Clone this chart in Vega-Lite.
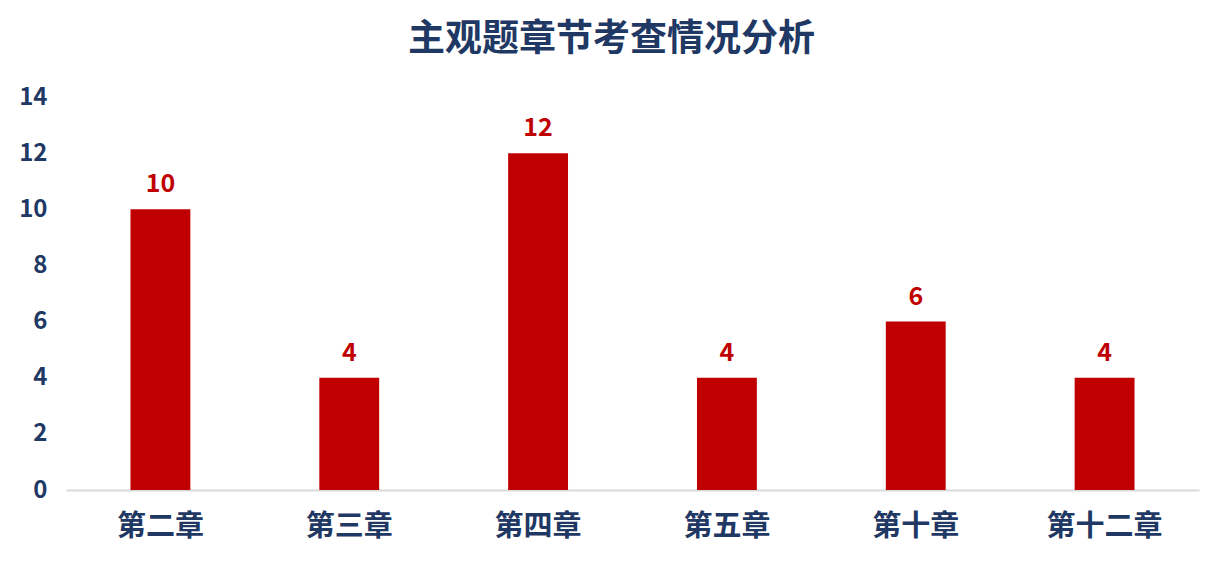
{
  "$schema": "https://vega.github.io/schema/vega-lite/v6.json",
  "width": 1133,
  "height": 393,
  "autosize": {"type": "none"},
  "padding": {"left": 66, "top": 97, "right": 23, "bottom": 76},
  "background": "white",
  "title": {
    "text": "主观题章节考查情况分析",
    "font": "Noto Sans CJK SC",
    "fontSize": 37,
    "fontWeight": "bold",
    "color": "#1F3864",
    "anchor": "middle",
    "dx": -21,
    "offset": 26
  },
  "data": {
    "values": [
      {"chapter": "第二章", "count": 10},
      {"chapter": "第三章", "count": 4},
      {"chapter": "第四章", "count": 12},
      {"chapter": "第五章", "count": 4},
      {"chapter": "第十章", "count": 6},
      {"chapter": "第十二章", "count": 4}
    ]
  },
  "encoding": {
    "x": {
      "field": "chapter",
      "type": "nominal",
      "sort": null,
      "scale": {"paddingInner": 0.683, "paddingOuter": 0.3415},
      "axis": {
        "title": null,
        "labelAngle": 0,
        "labelFont": "Noto Sans CJK SC",
        "labelFontSize": 29,
        "labelFontWeight": "bold",
        "labelColor": "#1F3864",
        "labelPadding": 22,
        "ticks": false,
        "domainColor": "#D9D9D9",
        "domainWidth": 2,
        "grid": false
      }
    },
    "y": {
      "field": "count",
      "type": "quantitative",
      "scale": {"domain": [0, 14]},
      "axis": {
        "title": null,
        "values": [0, 2, 4, 6, 8, 10, 12, 14],
        "labelFont": "Noto Sans CJK SC",
        "labelFontSize": 24,
        "labelFontWeight": "bold",
        "labelColor": "#1F3864",
        "labelPadding": 19,
        "ticks": false,
        "domain": false,
        "grid": false
      }
    }
  },
  "layer": [
    {"mark": {"type": "bar", "color": "#C00000"}},
    {
      "mark": {
        "type": "text",
        "color": "#C00000",
        "font": "Noto Sans CJK SC",
        "fontSize": 25,
        "fontWeight": "bold",
        "baseline": "bottom",
        "dy": -12
      },
      "encoding": {"text": {"field": "count", "type": "quantitative"}}
    }
  ],
  "config": {"view": {"stroke": null}}
}
